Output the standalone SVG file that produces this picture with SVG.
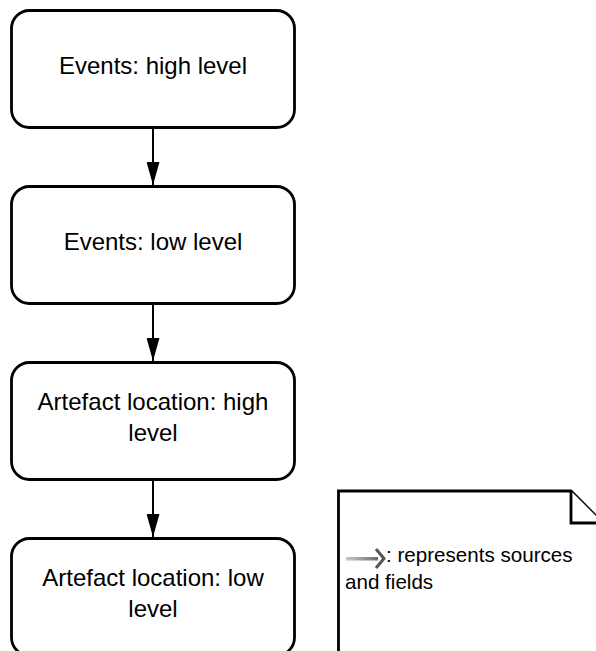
<svg xmlns="http://www.w3.org/2000/svg" width="596" height="651" viewBox="0 0 596 651">
  <style>
    .box { fill: #ffffff; stroke: #000000; stroke-width: 2.8; }
    .label { font-family: "Liberation Sans", Arial, sans-serif; font-size: 24px; fill: #000000; text-anchor: middle; }
    .edge { stroke: #000000; stroke-width: 2; fill: none; }
    .note { fill: #ffffff; stroke: #000000; stroke-width: 2.8; stroke-linejoin: miter; }
    .notetext { font-family: "Liberation Sans", Arial, sans-serif; font-size: 20.6px; fill: #000000; }
  </style>
  <defs>
    <marker id="tri" viewBox="0 0 23 13" refX="23" refY="6.5" markerWidth="23" markerHeight="13" markerUnits="userSpaceOnUse" orient="auto">
      <path d="M0,0 L23,6.5 L0,13 Z" fill="#000000"/>
    </marker>
    <linearGradient id="shaft" x1="0" y1="0" x2="1" y2="0">
      <stop offset="0" stop-color="#c8c8c8"/>
      <stop offset="1" stop-color="#6e6e6e"/>
    </linearGradient>
  </defs>

  <g id="connectors">
    <line class="edge" x1="153" y1="127.5" x2="153" y2="185" marker-end="url(#tri)"/>
    <line class="edge" x1="153" y1="303.5" x2="153" y2="361" marker-end="url(#tri)"/>
    <line class="edge" x1="153" y1="479.5" x2="153" y2="537" marker-end="url(#tri)"/>
  </g>

  <g id="events-high">
    <rect class="box" x="11.5" y="10.5" width="283" height="117" rx="18" ry="18"/>
    <text class="label" x="153" y="74">Events: high level</text>
  </g>

  <g id="events-low">
    <rect class="box" x="11.5" y="186.5" width="283" height="117" rx="18" ry="18"/>
    <text class="label" x="153" y="250">Events: low level</text>
  </g>

  <g id="artefact-high">
    <rect class="box" x="11.5" y="362.5" width="283" height="117" rx="18" ry="18"/>
    <text class="label" x="153" y="410">Artefact location: high</text>
    <text class="label" x="153" y="441">level</text>
  </g>

  <g id="artefact-low">
    <rect class="box" x="11.5" y="538.5" width="283" height="117" rx="18" ry="18"/>
    <text class="label" x="153" y="586">Artefact location: low</text>
    <text class="label" x="153" y="617">level</text>
  </g>

  <g id="legend-note">
    <path class="note" d="M338.5,660 L338.5,491 L571,491 L603,523 L603,660 Z"/>
    <path class="note" d="M571,491 L571,523 L603,523" fill="none"/>
    <!-- small arrow glyph standing for sources and fields -->
    <rect x="346" y="557" width="32" height="3.5" fill="url(#shaft)"/>
    <path d="M376,549 L384,558.5 L376,568" fill="none" stroke="#555555" stroke-width="3"/>
    <text class="notetext" x="386" y="562">: represents sources</text>
    <text class="notetext" x="345" y="589">and fields</text>
  </g>
</svg>
